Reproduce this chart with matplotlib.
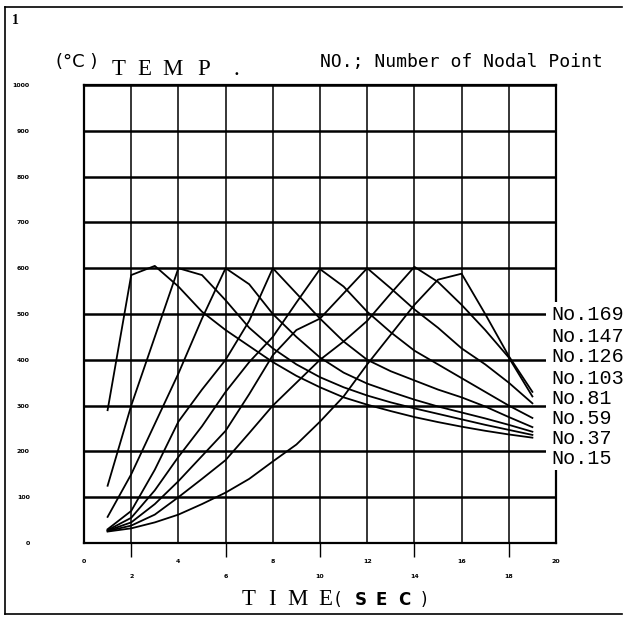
import matplotlib
matplotlib.use("Agg")
import matplotlib.pyplot as plt
from matplotlib.lines import Line2D
from matplotlib.patches import Rectangle

W, H = 626, 618

# time axis (sec) and temperature readings (deg C) per nodal point
time = list(range(1, 20))
temp_no15 = [290, 585, 605, 560, 505, 465, 430, 395, 365, 340, 318, 302, 288, 275, 264, 254, 245, 237, 230]
temp_no37 = [125, 300, 450, 600, 585, 530, 470, 425, 390, 362, 340, 322, 307, 294, 282, 270, 258, 247, 236]
temp_no59 = [57, 150, 260, 370, 490, 600, 565, 500, 450, 405, 372, 348, 330, 313, 298, 285, 272, 258, 243]
temp_no81 = [30, 70, 160, 265, 335, 400, 485, 600, 545, 490, 440, 400, 375, 355, 335, 318, 298, 275, 253]
temp_no103 = [28, 55, 115, 188, 255, 330, 395, 450, 525, 598, 560, 505, 460, 420, 390, 360, 330, 300, 273]
temp_no126 = [27, 45, 85, 135, 190, 245, 325, 410, 465, 490, 545, 600, 556, 510, 470, 425, 390, 350, 305]
temp_no147 = [26, 38, 62, 100, 140, 181, 240, 300, 350, 400, 440, 485, 545, 603, 570, 520, 465, 405, 320]
temp_no169 = [25, 32, 45, 62, 85, 110, 140, 178, 215, 265, 320, 390, 455, 520, 575, 588, 500, 408, 330]

series = [temp_no15, temp_no37, temp_no59, temp_no81,
          temp_no103, temp_no126, temp_no147, temp_no169]
node_labels = ["No.169", "No.147", "No.126", "No.103", "No.81", "No.59", "No.37", "No.15"]
label_rows = [315, 336, 357, 378, 399, 419, 439, 459]  # pixel rows of the labels

x_major = [0, 4, 8, 12, 16, 20]
x_minor = [2, 6, 10, 14, 18]
y_ticks = list(range(0, 1001, 100))


def fx(x):
    return x / W


def fy(y):
    return 1 - y / H


def spaced(chars, xs, y, **kw):
    # old plotter lettering is very wide, so place glyphs one by one
    for ch, x in zip(chars, xs):
        fig.text(fx(x), fy(y), ch, ha="center", va="baseline", **kw)


fig = plt.figure(figsize=(W / 100, H / 100), dpi=100)
ax = fig.add_axes([fx(84), fy(543), (556 - 84) / W, (543 - 85) / H])

for vals in series:
    ax.plot(time, vals, color="black", linewidth=1.3, zorder=3)

ax.set_xlim(0, 20)
ax.set_ylim(0, 1000)
ax.set_xticks(x_major, labels=[str(v) for v in x_major])
ax.set_xticks(x_minor, labels=[str(v) for v in x_minor], minor=True)
ax.set_yticks(y_ticks, labels=[str(v) for v in y_ticks])
ax.grid(axis="x", which="both", color="black", linewidth=1.1)
ax.grid(axis="y", which="major", color="black", linewidth=1.8)
ax.tick_params(axis="x", which="major", length=0, pad=11.5, labelsize=4.5)
ax.tick_params(axis="x", which="minor", length=10, width=1, direction="out", pad=12, labelsize=4.5)
ax.tick_params(axis="y", length=0, pad=39, labelsize=4.5)
for lbl in ax.get_xticklabels(which="both") + ax.get_yticklabels():
    lbl.set_fontweight("bold")
for sp in ax.spines.values():
    sp.set_linewidth(1.6)

# blank strip behind the node labels
fig.add_artist(Rectangle((fx(546), fy(470)), (W - 546) / W, (470 - 302) / H,
                         transform=fig.transFigure, facecolor="white",
                         edgecolor="none", zorder=5))
for name, yy in zip(node_labels, label_rows):
    fig.text(fx(551), fy(yy), name, family="Liberation Mono", fontsize=14.5,
             ha="left", va="center", zorder=6)

# page frame
for xs, ys in [((5, 5), (7, 614)), ((5, 622), (7, 7)), ((5, 622), (614, 614))]:
    fig.add_artist(Line2D([fx(x) for x in xs], [fy(y) for y in ys],
                          transform=fig.transFigure, color="black", linewidth=1.2))

fig.text(fx(12), fy(24), "1", family="Liberation Serif", fontsize=10, fontweight="bold")
fig.text(fx(56), fy(67), "(°C )", family="DejaVu Sans", fontsize=13, va="baseline")
spaced("TEMP.", [119, 144, 172, 204, 236], 75, family="Liberation Serif", fontsize=16.5)
fig.text(fx(320), fy(67), "NO.; Number of Nodal Point", family="DejaVu Sans Mono",
         fontsize=13, va="baseline")
spaced("TIME", [249, 272, 297, 325], 605, family="Liberation Serif", fontsize=16.5)
spaced("()", [338, 424], 605, family="DejaVu Sans", fontsize=12)
spaced("SEC", [361, 381, 404], 605, family="DejaVu Sans", fontsize=12, fontweight="bold")

fig.savefig("out.png", dpi=100)
